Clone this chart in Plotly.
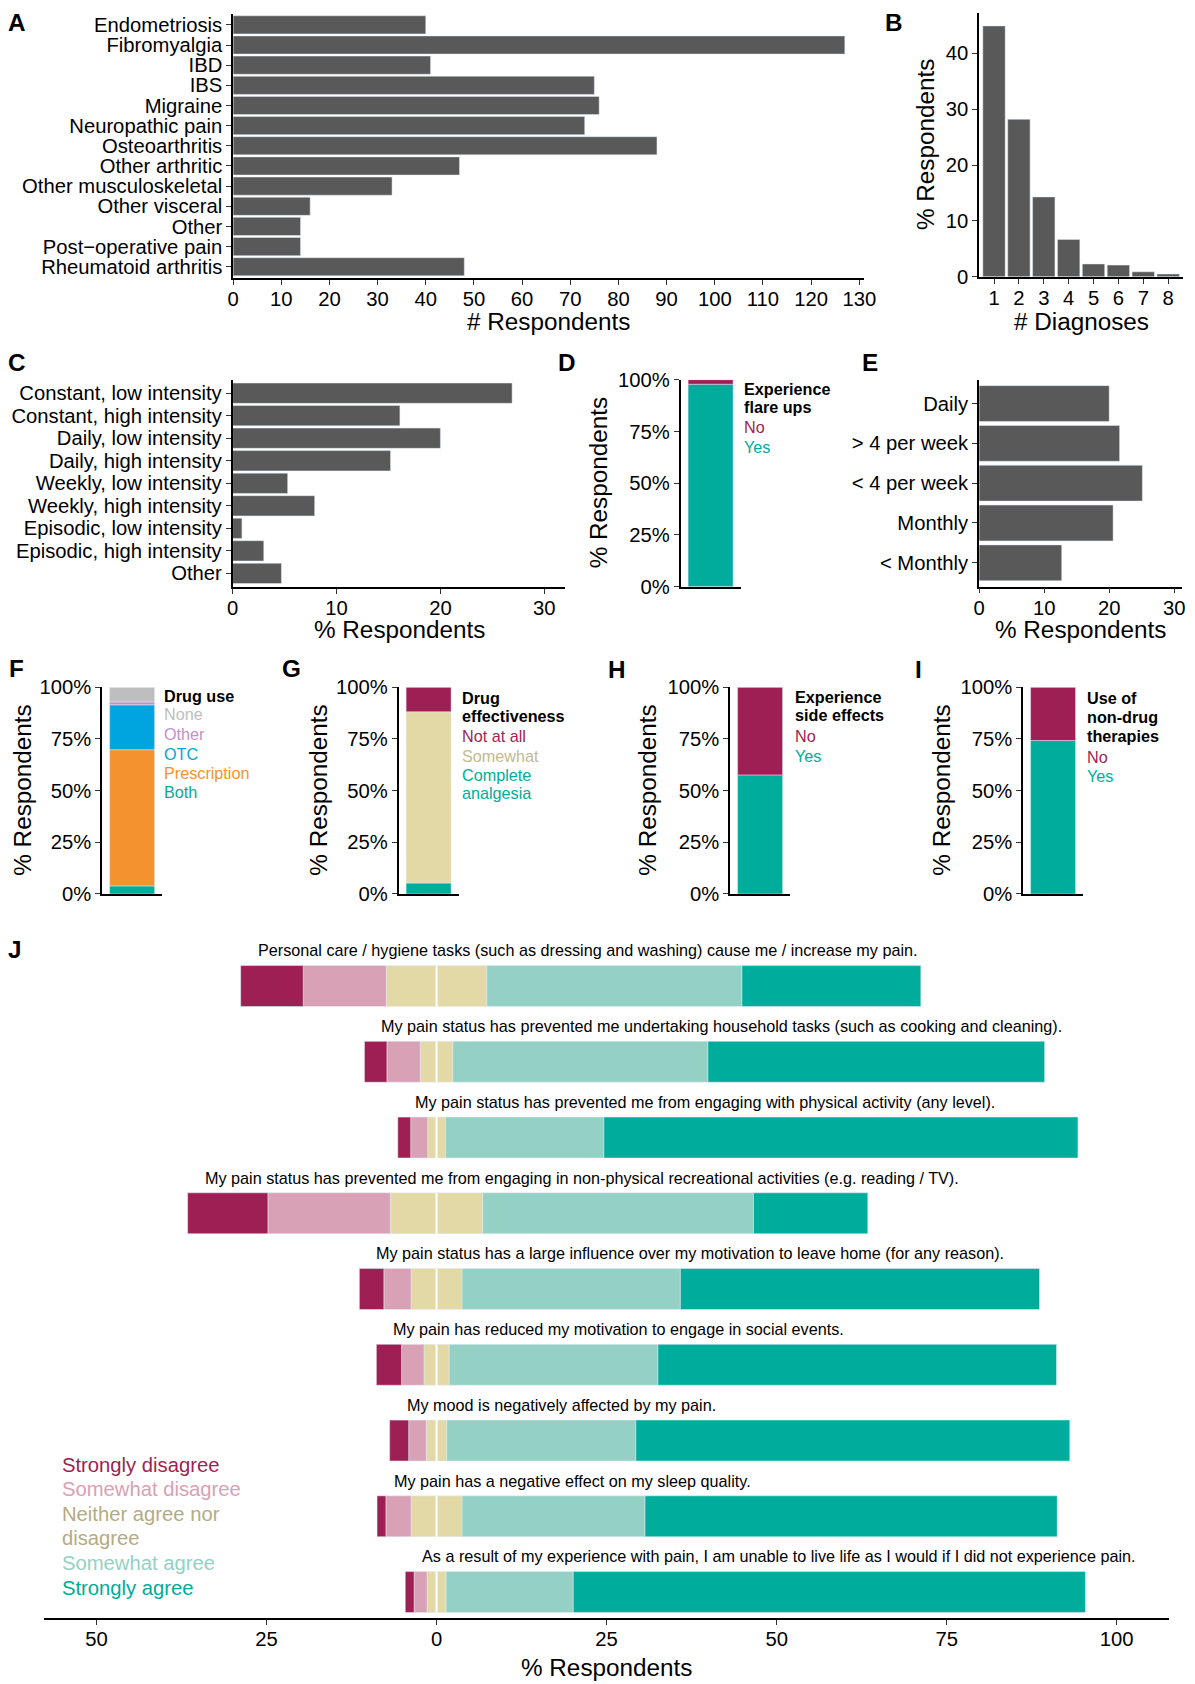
import plotly.graph_objects as go

W, H = 1195, 1684          # target picture size
OFF = 8                    # page body margin of the viewer
SX, SY = 0.985, 0.9915     # observed page-to-picture scale of the viewer (x, y)
SF = 0.988                 # font compensation
WF, HF = round(W / SX) - 2 * OFF, round(H / SY) - 2 * OFF
FONT = "Liberation Sans, Arial, Helvetica, sans-serif"

# ---------------- data ----------------
diag_categories = ["Endometriosis", "Fibromyalgia", "IBD", "IBS", "Migraine", "Neuropathic pain",
                   "Osteoarthritis", "Other arthritic", "Other musculoskeletal", "Other visceral",
                   "Other", "Post\u2212operative pain", "Rheumatoid arthritis"]
diag_counts = [40, 127, 41, 75, 76, 73, 88, 47, 33, 16, 14, 14, 48]

n_diag_labels = ["1", "2", "3", "4", "5", "6", "7", "8"]
n_diag_pct = [44.9, 28.2, 14.3, 6.7, 2.3, 2.1, 0.9, 0.5]

pattern_categories = ["Constant, low intensity", "Constant, high intensity", "Daily, low intensity",
                      "Daily, high intensity", "Weekly, low intensity", "Weekly, high intensity",
                      "Episodic, low intensity", "Episodic, high intensity", "Other"]
pattern_pct = [26.9, 16.1, 20.0, 15.2, 5.3, 7.9, 0.9, 3.0, 4.7]

flare_labels = ["Yes", "No"]
flare_pct = [97.8, 2.2]

flare_freq_categories = ["Daily", "> 4 per week", "< 4 per week", "Monthly", "< Monthly"]
flare_freq_pct = [20.0, 21.6, 25.1, 20.6, 12.7]

drug_use_labels = ["Both", "Prescription", "OTC", "Other", "None"]
drug_use_pct = [3.9, 65.9, 21.7, 1.4, 7.1]

drug_eff_labels = ["Complete analgesia", "Somewhat", "Not at all"]
drug_eff_pct = [5.3, 82.8, 11.9]

side_eff_labels = ["Yes", "No"]
side_eff_pct = [57.6, 42.4]

nondrug_labels = ["Yes", "No"]
nondrug_pct = [74.2, 25.8]

pct_ticks = [0, 25, 50, 75, 100]
pct_tick_labels = ["0%", "25%", "50%", "75%", "100%"]

statements = [
    "Personal care / hygiene tasks (such as dressing and washing) cause me / increase my pain.",
    "My pain status has prevented me undertaking household tasks (such as cooking and cleaning).",
    "My pain status has prevented me from engaging with physical activity (any level).",
    "My pain status has prevented me from engaging in non-physical recreational activities (e.g. reading / TV).",
    "My pain status has a large influence over my motivation to leave home (for any reason).",
    "My pain has reduced my motivation to engage in social events.",
    "My mood is negatively affected by my pain.",
    "My pain has a negative effect on my sleep quality.",
    "As a result of my experience with pain, I am unable to live life as I would if I did not experience pain.",
]
likert_levels = ["Strongly disagree", "Somewhat disagree", "Neither agree nor disagree",
                 "Somewhat agree", "Strongly agree"]
strongly_disagree = [9.2, 3.3, 1.9, 11.8, 3.6, 3.7, 2.8, 1.3, 1.3]
somewhat_disagree = [12.2, 4.9, 2.5, 18.0, 4.0, 3.3, 2.6, 3.7, 1.9]
neither = [14.8, 4.8, 2.6, 13.6, 7.5, 3.7, 3.0, 7.5, 2.8]
somewhat_agree = [37.5, 37.5, 23.3, 39.8, 32.1, 30.7, 27.8, 26.9, 18.7]
strongly_agree = [26.3, 49.5, 69.7, 16.8, 52.8, 58.6, 63.8, 60.6, 75.3]
likert_ticks = [-50, -25, 0, 25, 50, 75, 100]
likert_tick_labels = ["50", "25", "0", "25", "50", "75", "100"]

# ---------------- colours ----------------
DARK = "#595959"
MAROON = "#9E1F53"
PINK = "#D8A1B5"
BEIGE = "#E2D9A6"
BEIGE_TXT = "#B5AB82"
MINT = "#94D1C4"
TEAL = "#00AC9B"
GREY = "#BEBEBE"
LILAC = "#C48FCB"
BLUE = "#00A5DF"
ORANGE = "#F4922F"


def fs(size):
    return size / SF


def px(p):
    return (p / SX - OFF) / WF


def py(p):
    return 1 - (p / SY - OFF) / HF


def dx(a, b):
    return [px(a), px(b)]


def dy(top, bottom):
    return [py(bottom), py(top)]


def ann(text, x, y, size, color="black", bold=False, xanchor="center", angle=0):
    return dict(text=f"<b>{text}</b>" if bold else text, x=px(x), y=py(y),
                xref="paper", yref="paper", showarrow=False, xanchor=xanchor, yanchor="middle",
                textangle=angle, font=dict(size=fs(size), color=color, family=FONT))


def base_axis(**kw):
    d = dict(showline=True, linecolor="black", linewidth=1.6, ticks="outside", ticklen=5,
             tickwidth=1.2, tickcolor="#333333", showgrid=False, zeroline=False,
             tickfont=dict(size=fs(20), color="black", family=FONT), fixedrange=True)
    d.update(kw)
    return d


def num_xaxis(**kw):
    return base_axis(ticklabelstandoff=-3, **kw)


def cat_axis(cats, pad, **kw):
    n = len(cats)
    return base_axis(type="category", categoryorder="array", categoryarray=cats,
                     tickmode="array", tickvals=cats, ticktext=cats,
                     range=[n - 1 + pad, -pad], **kw)


fig = go.Figure()
layout = dict(width=WF, height=HF, margin=dict(l=0, r=0, t=0, b=0), paper_bgcolor="white",
              plot_bgcolor="white", showlegend=False, barmode="relative",
              font=dict(family=FONT, color="black"))
annotations = []
shapes = []

# ---- A ----
fig.add_trace(go.Bar(x=diag_counts, y=diag_categories, orientation="h", marker_color=DARK,
                     width=0.9, xaxis="x", yaxis="y"))
layout["xaxis"] = num_xaxis(domain=dx(235, 866), anchor="y", range=[0, 131],
                            tickvals=list(range(0, 131, 10)))
layout["yaxis"] = cat_axis(diag_categories, 0.55, domain=dy(10.7, 276), anchor="x")
annotations.append(ann("# Respondents", 550.5, 320, 24))

# ---- B ----
fig.add_trace(go.Bar(x=n_diag_labels, y=n_diag_pct, marker_color=DARK, width=0.9,
                     xaxis="x2", yaxis="y2"))
layout["xaxis2"] = num_xaxis(domain=dx(981, 1185), anchor="y2", type="category",
                             tickmode="array", tickvals=n_diag_labels, ticktext=n_diag_labels,
                             range=[-0.6, len(n_diag_labels) - 0.4])
layout["yaxis2"] = base_axis(domain=dy(10, 275), anchor="x2", range=[0, 47.2],
                             tickvals=[0, 10, 20, 30, 40])
annotations.append(ann("# Diagnoses", 1083, 320, 24))
annotations.append(ann("% Respondents", 928, 142.5, 24, angle=-90))

# ---- C ----
fig.add_trace(go.Bar(x=pattern_pct, y=pattern_categories, orientation="h", marker_color=DARK,
                     width=0.9, xaxis="x3", yaxis="y3"))
layout["xaxis3"] = num_xaxis(domain=dx(234.5, 567), anchor="y3", range=[0, 32],
                             tickvals=[0, 10, 20, 30])
layout["yaxis3"] = cat_axis(pattern_categories, 0.6, domain=dy(378.3, 586.5), anchor="x3")
annotations.append(ann("% Respondents", 401, 629.5, 24))


# ---- stacked single bars (D, F, G, H, I) ----
def stacked_panel(idx, labels, values, colors, xdom, ydom, title_x, legend_x, legend_lines):
    xa, ya = f"x{idx}", f"y{idx}"
    for lab, val, col in zip(labels, values, colors):
        fig.add_trace(go.Bar(x=["all"], y=[val], name=lab, marker_color=col, width=0.9,
                             xaxis=xa, yaxis=ya))
    layout[f"xaxis{idx}"] = base_axis(domain=dx(*xdom), anchor=ya, type="category",
                                      range=[-0.6, 0.6], showticklabels=False, ticks="")
    layout[f"yaxis{idx}"] = base_axis(domain=dy(*ydom), anchor=xa, range=[0, 100],
                                      tickmode="array", tickvals=pct_ticks, ticktext=pct_tick_labels)
    annotations.append(ann("% Respondents", title_x, (ydom[0] + ydom[1]) / 2, 24, angle=-90))
    for text, col, bold, yy in legend_lines:
        annotations.append(ann(text, legend_x, yy, 16, color=col, bold=bold, xanchor="left"))


stacked_panel(4, flare_labels, flare_pct, [TEAL, MAROON], (682.5, 742.5), (378.3, 586.3), 600, 744,
              [("Experience", "black", True, 388), ("flare ups", "black", True, 406),
               ("No", MAROON, False, 426), ("Yes", TEAL, False, 446)])

# ---- E ----
fig.add_trace(go.Bar(x=flare_freq_pct, y=flare_freq_categories, orientation="h", marker_color=DARK,
                     width=0.9, xaxis="x5", yaxis="y5"))
layout["xaxis5"] = num_xaxis(domain=dx(981, 1184), anchor="y5", range=[0, 31.2],
                             tickvals=[0, 10, 20, 30])
layout["yaxis5"] = cat_axis(flare_freq_categories, 0.6, domain=dy(378.3, 586.3), anchor="x5")
annotations.append(ann("% Respondents", 1082.5, 629.5, 24))

FY = (687.3, 895)
stacked_panel(6, drug_use_labels, drug_use_pct, [TEAL, ORANGE, BLUE, LILAC, GREY], (104, 164), FY, 24, 164,
              [("Drug use", "black", True, 696), ("None", GREY, False, 714), ("Other", LILAC, False, 734),
               ("OTC", BLUE, False, 754), ("Prescription", ORANGE, False, 773), ("Both", TEAL, False, 793)])
stacked_panel(7, drug_eff_labels, drug_eff_pct, [TEAL, BEIGE, MAROON], (400.5, 460.5), FY, 320, 462,
              [("Drug", "black", True, 698), ("effectiveness", "black", True, 716),
               ("Not at all", MAROON, False, 736), ("Somewhat", "#C4BA90", False, 756),
               ("Complete", TEAL, False, 775), ("analgesia", TEAL, False, 794)])
stacked_panel(8, side_eff_labels, side_eff_pct, [TEAL, MAROON], (732, 792), FY, 650, 795,
              [("Experience", "black", True, 697), ("side effects", "black", True, 715),
               ("No", MAROON, False, 736), ("Yes", TEAL, False, 756)])
stacked_panel(9, nondrug_labels, nondrug_pct, [TEAL, MAROON], (1025, 1085), FY, 944, 1087,
              [("Use of", "black", True, 698), ("non-drug", "black", True, 717),
               ("therapies", "black", True, 736), ("No", MAROON, False, 757), ("Yes", TEAL, False, 776)])

# ---- J (diverging likert) ----
neg_neither = [-v / 2 for v in neither]
pos_neither = [v / 2 for v in neither]
neg_swd = [-v for v in somewhat_disagree]
neg_sd = [-v for v in strongly_disagree]
for vals, col in [(neg_neither, BEIGE), (neg_swd, PINK), (neg_sd, MAROON),
                  (pos_neither, BEIGE), (somewhat_agree, MINT), (strongly_agree, TEAL)]:
    fig.add_trace(go.Bar(x=vals, y=statements, orientation="h", marker_color=col, width=0.54,
                         xaxis="x10", yaxis="y10"))
ns = len(statements)
layout["xaxis10"] = num_xaxis(domain=dx(46, 1171), anchor="y10", range=[-57.7, 107.7],
                              tickmode="array", tickvals=likert_ticks, ticktext=likert_tick_labels)
layout["yaxis10"] = dict(domain=dy(940, 1622.7), anchor="x10", type="category", visible=False,
                         categoryorder="array", categoryarray=statements,
                         range=[ns - 1 + 0.347, -0.624], fixedrange=True)
for i, s in enumerate(statements):
    left = -(strongly_disagree[i] + somewhat_disagree[i] + neither[i] / 2)
    annotations.append(dict(text=s, x=left + 2.2, y=i - 0.47, xref="x10", yref="y10",
                            showarrow=False, xanchor="left", yanchor="middle",
                            font=dict(size=fs(16), color="black", family=FONT)))
    shapes.append(dict(type="line", xref="x10", yref="y10", x0=0, x1=0, y0=i - 0.27, y1=i + 0.27,
                       line=dict(color="white", width=2)))
annotations.append(ann("% Respondents", 608.5, 1671.7, 24))

leg_lines = [("Strongly disagree", MAROON, 1469), ("Somewhat disagree", PINK, 1493),
             ("Neither agree nor", BEIGE_TXT, 1518), ("disagree", BEIGE_TXT, 1542),
             ("Somewhat agree", MINT, 1567), ("Strongly agree", TEAL, 1592)]
for t, c, yy in leg_lines:
    annotations.append(ann(t, 62, yy, 20, color=c, xanchor="left"))

# ---- panel letters ----
for letter, x, y in [("A", 19, 19), ("B", 896, 19), ("C", 19, 361), ("D", 569, 361), ("E", 872, 361),
                     ("F", 18, 668), ("G", 293, 668), ("H", 619, 669), ("I", 920, 669), ("J", 17, 951)]:
    annotations.append(ann(letter, x, y, 24, bold=True))

layout["annotations"] = annotations
layout["shapes"] = shapes
fig.update_layout(**layout)
fig.write_html("out.html")
